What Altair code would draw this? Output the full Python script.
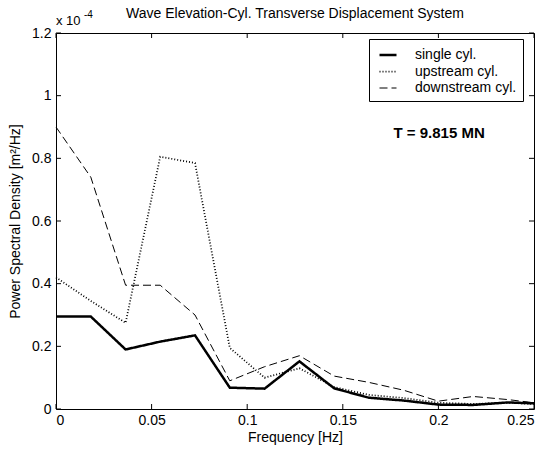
import altair as alt
import pandas as pd

# ---- data (PSD values in units of 1e-4 m^2/Hz) ----
freq = [0, 0.0182, 0.0364, 0.0545, 0.0727, 0.0909, 0.1091, 0.1273, 0.1455,
        0.1636, 0.1818, 0.2, 0.2182, 0.2364, 0.25]
single = [0.295, 0.295, 0.19, 0.215, 0.235, 0.068, 0.065, 0.152, 0.066,
          0.036, 0.027, 0.014, 0.013, 0.021, 0.018]
upstream = [0.42, 0.345, 0.275, 0.805, 0.785, 0.195, 0.10, 0.13, 0.07,
            0.045, 0.035, 0.02, 0.016, 0.02, 0.016]
downstream = [0.90, 0.74, 0.395, 0.395, 0.30, 0.09, 0.135, 0.17, 0.105,
              0.085, 0.06, 0.025, 0.04, 0.03, 0.02]
series_names = ["single cyl.", "upstream cyl.", "downstream cyl."]

x_ticks = [0, 0.05, 0.1, 0.15, 0.2, 0.25]
y_ticks = [0, 0.2, 0.4, 0.6, 0.8, 1, 1.2]

title_text = ["Wave Elevation-Cyl. Transverse Displacement System"]
annot_text = ["T = 9.815 MN"]
annot_x = [0.1765]
annot_y = [0.88]

FONT = "Liberation Sans"
FS = 14
W, H = 478, 376

rows = []
for name, vals in zip(series_names, [single, upstream, downstream]):
    for f, v in zip(freq, vals):
        rows.append({"freq": f, "psd": v, "series": name})
df = pd.DataFrame(rows)

xscale = alt.Scale(domain=[0, 0.25], nice=False, zero=False)
yscale = alt.Scale(domain=[0, 1.2], nice=False)
xaxis = alt.Axis(values=x_ticks, format="~g", title="Frequency [Hz]",
                 ticks=False, domain=False, grid=False,
                 labelPadding=4, titlePadding=3)
yaxis = alt.Axis(values=y_ticks, format="~g",
                 title="Power Spectral Density [m²/Hz]",
                 ticks=False, domain=False, grid=False,
                 labelPadding=5, titlePadding=9)

lines = alt.Chart(df).mark_line(color="black", strokeCap="butt", strokeJoin="miter").encode(
    x=alt.X("freq:Q", scale=xscale, axis=xaxis),
    y=alt.Y("psd:Q", scale=yscale, axis=yaxis),
    strokeDash=alt.StrokeDash("series:N",
                              scale=alt.Scale(domain=series_names,
                                              range=[[1, 0], [1, 2], [8, 4]]),
                              sort=series_names,
                              legend=alt.Legend(title=None, orient="none",
                                                legendX=313, legendY=6,
                                                fillColor="white", strokeColor="black",
                                                padding=6, symbolType="stroke",
                                                symbolSize=289, symbolStrokeColor="black",
                                                symbolOffset=3,
                                                labelFont=FONT, labelFontSize=FS,
                                                labelColor="black", labelOffset=17,
                                                rowPadding=-1)),
    strokeWidth=alt.StrokeWidth("series:N",
                                scale=alt.Scale(domain=series_names, range=[2.5, 1, 1]),
                                sort=series_names,
                                legend=alt.Legend(title=None, orient="none",
                                                  legendX=313, legendY=6)),
    detail="series:N",
)

xt = pd.DataFrame({"freq": x_ticks})
yt = pd.DataFrame({"psd": y_ticks})

tick_bottom = alt.Chart(xt).mark_rule(color="black").encode(
    x=alt.X("freq:Q", scale=xscale, axis=xaxis), y=alt.value(H), y2=alt.value(H - 5))
tick_top = alt.Chart(xt).mark_rule(color="black").encode(
    x=alt.X("freq:Q", scale=xscale, axis=xaxis), y=alt.value(0), y2=alt.value(5))
tick_left = alt.Chart(yt).mark_rule(color="black").encode(
    y=alt.Y("psd:Q", scale=yscale, axis=yaxis), x=alt.value(0), x2=alt.value(5))
tick_right = alt.Chart(yt).mark_rule(color="black").encode(
    y=alt.Y("psd:Q", scale=yscale, axis=yaxis), x=alt.value(W), x2=alt.value(W - 5))

annot = alt.Chart(pd.DataFrame({"t": annot_text, "freq": annot_x, "psd": annot_y})).mark_text(
    font=FONT, fontSize=15, fontWeight="bold", align="left", baseline="middle", color="black"
).encode(x=alt.X("freq:Q", scale=xscale, axis=xaxis),
         y=alt.Y("psd:Q", scale=yscale, axis=yaxis), text="t:N")

title = alt.Chart(pd.DataFrame({"t": title_text})).mark_text(
    font=FONT, fontSize=FS, align="center", baseline="middle", color="black"
).encode(x=alt.value(W / 2), y=alt.value(-19), text="t:N")

exp_base = alt.Chart(pd.DataFrame({"t": ["x 10"]})).mark_text(
    font=FONT, fontSize=13, align="left", baseline="alphabetic", color="black"
).encode(x=alt.value(0), y=alt.value(-8), text="t:N")
exp_sup = alt.Chart(pd.DataFrame({"t": ["-4"]})).mark_text(
    font=FONT, fontSize=10, align="left", baseline="alphabetic", color="black"
).encode(x=alt.value(28), y=alt.value(-15), text="t:N")

chart = alt.layer(lines, tick_bottom, tick_top, tick_left, tick_right, annot,
                  title, exp_base, exp_sup).properties(
    width=W, height=H,
    autosize="none",
    background="white",
    padding={"left": 56, "top": 33, "right": 13, "bottom": 45},
).configure_view(stroke="black", strokeWidth=1).configure_axis(
    labelFont=FONT, labelFontSize=FS, labelColor="black",
    titleFont=FONT, titleFontSize=FS, titleColor="black", titleFontWeight="normal"
)

chart.save("out.html", embed_options={"renderer": "svg", "actions": False})
